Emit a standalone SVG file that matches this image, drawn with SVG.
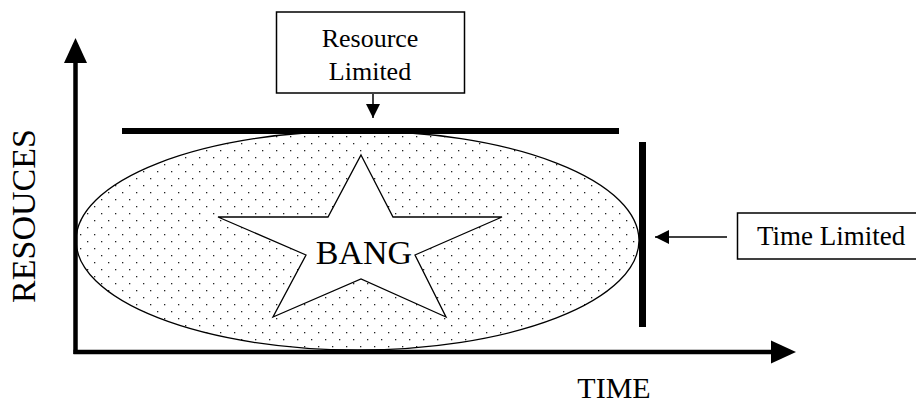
<svg xmlns="http://www.w3.org/2000/svg" width="916" height="408" viewBox="0 0 916 408">
  <style>
    .lbl { font-family: "Liberation Serif", "Times New Roman", serif; fill: #000; }
    .box { fill: #fff; stroke: #000; stroke-width: 1.5; }
    .thick { stroke: #000; fill: none; }
    .conn { stroke: #000; stroke-width: 1.5; fill: none; }
  </style>
  <defs>
    <pattern id="dots" x="0" y="0" width="14" height="14" patternUnits="userSpaceOnUse">
      <rect x="3" y="3" width="1.3" height="1.3" fill="#222"/>
      <rect x="10" y="10" width="1.3" height="1.3" fill="#222"/>
    </pattern>
    <marker id="head" viewBox="0 0 14 14" refX="14" refY="7" markerWidth="14" markerHeight="14" markerUnits="userSpaceOnUse" orient="auto">
      <path d="M0,0 L14,7 L0,14 Z" fill="#000"/>
    </marker>
  </defs>
  <rect x="0" y="0" width="916" height="408" fill="#fff"/>

  <g id="ellipse-area">
    <ellipse cx="357.5" cy="240.5" rx="281.5" ry="109.5" fill="#fff" stroke="none"/>
    <ellipse cx="357.5" cy="240.5" rx="281.5" ry="109.5" fill="url(#dots)" stroke="#000" stroke-width="1.3"/>
  </g>

  <g id="axes">
    <line class="thick" x1="75.5" y1="354" x2="75.5" y2="60" stroke-width="4.5"/>
    <polygon points="75.5,38 64,63 87,63" fill="#000"/>
    <line class="thick" x1="73.5" y1="352" x2="773" y2="352" stroke-width="4.5"/>
    <polygon points="796,352 771,340.5 771,363.5" fill="#000"/>
    <text class="lbl" font-size="34" transform="translate(35,216) rotate(-90)" text-anchor="middle">RESOUCES</text>
    <text class="lbl" font-size="30" x="614" y="398" text-anchor="middle">TIME</text>
  </g>

  <g id="resource-limit-line">
    <line class="thick" x1="122" y1="131" x2="619" y2="131" stroke-width="6"/>
  </g>

  <g id="time-limit-line">
    <line class="thick" x1="642.5" y1="142" x2="642.5" y2="327" stroke-width="7"/>
  </g>

  <g id="star">
    <polygon points="361,155 393,217 502,217 415,255 446,317 361,279 273,317 306,255 218,217 328,217" fill="#fff" stroke="#000" stroke-width="1.3"/>
    <text class="lbl" font-size="34" x="364" y="264" text-anchor="middle">BANG</text>
  </g>

  <g id="resource-box">
    <rect class="box" x="276.5" y="12" width="188" height="81"/>
    <text class="lbl" font-size="26" x="370" y="47" text-anchor="middle">Resource</text>
    <text class="lbl" font-size="26" x="370" y="80" text-anchor="middle">Limited</text>
  </g>

  <g id="time-box">
    <rect class="box" x="737.5" y="213" width="190" height="46"/>
    <text class="lbl" font-size="27" x="757" y="245">Time Limited</text>
  </g>

  <g id="connectors">
    <line class="conn" x1="373" y1="94" x2="373" y2="118" marker-end="url(#head)"/>
    <line class="conn" x1="727" y1="237" x2="655" y2="237" marker-end="url(#head)"/>
  </g>
</svg>
